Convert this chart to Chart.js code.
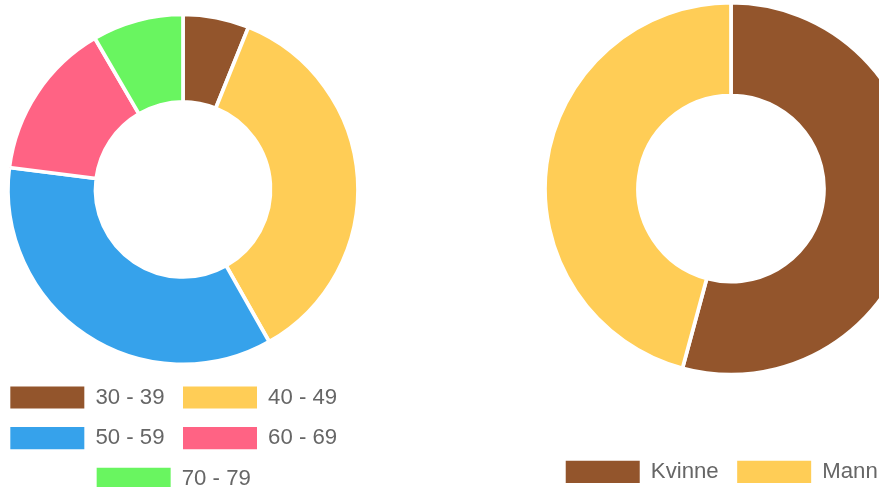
<!DOCTYPE html>
<html>
<head>
<meta charset="utf-8">
<script src="https://cdn.jsdelivr.net/npm/chart.js@4/dist/chart.umd.min.js"></script>
<style>
  html, body { margin: 0; padding: 0; width: 879px; height: 487px; overflow: hidden; background: #fff; position: relative; }
  #c1 { position: absolute; left: -9px; top: 0px; }
  #c2 { position: absolute; left: 545px; top: -65px; }
</style>
</head>
<body>
<canvas id="c1" width="384" height="500"></canvas>
<canvas id="c2" width="372" height="558"></canvas>
<script>
// Left chart: age groups (share in %)
const ageLabels = ['30 - 39', '40 - 49', '50 - 59', '60 - 69', '70 - 79'];
const ageValues = [6.1, 35.7, 35.2, 14.6, 8.4];
const ageColors = ['#93552C', '#FFCD56', '#36A2EB', '#FF6384', '#69F560'];

// Right chart: gender (share in %)
const genderLabels = ['Kvinne', 'Mann'];
const genderValues = [54.2, 45.8];
const genderColors = ['#93552C', '#FFCD56'];

const FONT_SIZE = 22.2;
const PAD = 18.5;

// Center legend rows like the original (Chart.js v2 style centering)
const legendShift = {
  id: 'legendShift',
  afterLayout(chart) {
    const lg = chart.legend;
    if (!lg) return;
    const p = lg.options.labels.padding;
    lg.left -= p / 2;
    lg.right -= p / 2;
  }
};

function makeOptions(radius, topPad) {
  return {
    responsive: false,
    animation: false,
    devicePixelRatio: 1,
    layout: { padding: { top: topPad, left: 0, right: 0, bottom: 0 } },
    cutout: '50%',
    radius: radius,
    plugins: {
      tooltip: { enabled: false },
      legend: {
        display: true,
        position: 'bottom',
        labels: {
          color: '#666',
          font: { family: "'Helvetica Neue', Helvetica, Arial, 'Liberation Sans', sans-serif", size: FONT_SIZE },
          boxWidth: 74,
          boxHeight: FONT_SIZE,
          padding: PAD,
          generateLabels(chart) {
            const base = Chart.overrides.doughnut.plugins.legend.labels.generateLabels(chart);
            return base.map(l => Object.assign({}, l, { lineWidth: 0 }));
          }
        }
      }
    }
  };
}

new Chart(document.getElementById('c1'), {
  type: 'doughnut',
  data: {
    labels: ageLabels,
    datasets: [{
      data: ageValues,
      backgroundColor: ageColors,
      borderColor: '#fff',
      borderWidth: 3.7
    }]
  },
  options: makeOptions(175, 11),
  plugins: [legendShift]
});

new Chart(document.getElementById('c2'), {
  type: 'doughnut',
  data: {
    labels: genderLabels,
    datasets: [{
      data: genderValues,
      backgroundColor: genderColors,
      borderColor: '#fff',
      borderWidth: 3.7
    }]
  },
  options: makeOptions(186, 0),
  plugins: [legendShift]
});
</script>
</body>
</html>
